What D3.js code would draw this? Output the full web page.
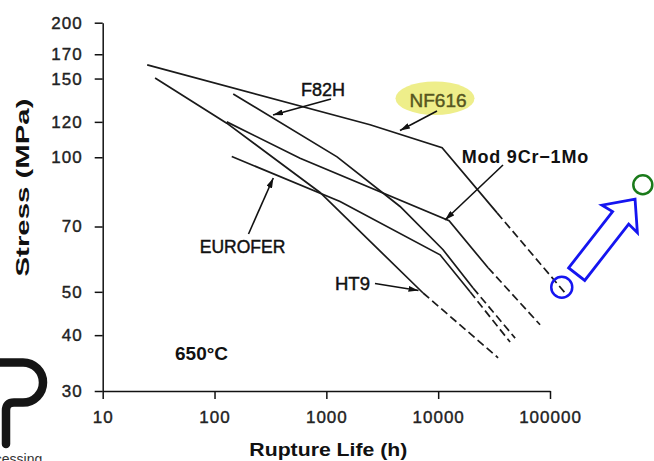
<!DOCTYPE html>
<meta charset="utf-8">
<svg width="654" height="461"></svg>
<script src="https://d3js.org/d3.v7.min.js"></script>
<style>
  body { margin: 0; background: #fff; }
  svg { display: block; }
  * { font-family: 'Liberation Sans', Arial, sans-serif; }
</style>
<script>
// creep rupture curves at 650 C: [rupture life (h), stress (MPa)]
// solid part = measured, dashed part = extrapolated
var nf616Measured = [[25, 161], [2460, 118.2], [10840, 105], [33650, 75.1]];
var nf616Extrapolated = [[33650, 75.1], [139300, 49.4]];

var mod9CrMeasured = [[128.6, 120], [582, 99.5], [12520, 72.1], [27950, 56.6]];
var mod9CrExtrapolated = [[27950, 56.6], [81500, 42.2]];

var f82hMeasured = [[147, 138.5], [1247, 100.2], [4563, 77.6], [11060, 62.1], [20510, 51]];
var f82hExtrapolated = [[20510, 51], [48750, 39.4]];

var euroferMeasured = [[142.6, 100.4], [1326, 79.6], [10400, 60.5], [19290, 50]];
var euroferExtrapolated = [[19290, 50], [43950, 38.6]];

var ht9Measured = [[29.4, 150.4], [128.6, 119.2], [878, 83.4], [7328, 49.7]];
var ht9Extrapolated = [[7328, 49.7], [34350, 35.6]];

// circled points (current NF616 end, target)
var currentPoint = [127400, 51.2];
var targetPoint = [676000, 86.8];

var xTicks = [10, 100, 1000, 10000, 100000];
var yTicks = [30, 40, 50, 70, 100, 120, 150, 170, 200];

var svg = d3.select("svg"),
    margin = {top: 22.7, right: 104, bottom: 70, left: 102.7},
    width = +svg.attr("width") - margin.left - margin.right,
    height = +svg.attr("height") - margin.top - margin.bottom,
    g = svg.append("g").attr("transform", "translate(" + margin.left + "," + margin.top + ")");

var x = d3.scaleLog().domain([10, 100000]).range([0, width]);
var y = d3.scaleLog().domain([30, 200]).range([height, 0]);

var line = d3.line()
    .x(function(d) { return x(d[0]); })
    .y(function(d) { return y(d[1]); });

// arrowhead marker
svg.append("defs").append("marker")
    .attr("id", "head")
    .attr("markerUnits", "userSpaceOnUse")
    .attr("viewBox", "0 0 10 6")
    .attr("refX", 10).attr("refY", 3)
    .attr("markerWidth", 10).attr("markerHeight", 6)
    .attr("orient", "auto")
  .append("path")
    .attr("d", "M0,0L10,3L0,6z")
    .attr("fill", "#111");

// axes
var xAxis = g.append("g")
    .attr("transform", "translate(0," + height + ")")
    .call(d3.axisBottom(x).tickValues(xTicks).tickFormat(d3.format("d"))
      .tickSize(8).tickSizeOuter(0).tickPadding(12));

var yAxis = g.append("g")
    .call(d3.axisLeft(y).tickValues(yTicks).tickFormat(d3.format("d"))
      .tickSize(8).tickSizeOuter(0).tickPadding(12));

[xAxis, yAxis].forEach(function(a) {
  a.selectAll("path, line").attr("stroke", "#111").attr("stroke-width", 1.5);
  a.selectAll("text")
      .attr("fill", "#222")
      .attr("stroke", "#222").attr("stroke-width", 0.4)
      .style("font-family", "'Liberation Sans', Arial, sans-serif")
      .style("font-size", "17px")
      .style("letter-spacing", "1px");
});

// curves
var curves = [
  [nf616Measured, nf616Extrapolated],
  [mod9CrMeasured, mod9CrExtrapolated],
  [f82hMeasured, f82hExtrapolated],
  [euroferMeasured, euroferExtrapolated],
  [ht9Measured, ht9Extrapolated]
];

curves.forEach(function(c) {
  g.append("path").datum(c[0])
      .attr("fill", "none").attr("stroke", "#1a1a1a").attr("stroke-width", 1.7)
      .attr("d", line);
  g.append("path").datum(c[1])
      .attr("fill", "none").attr("stroke", "#1a1a1a").attr("stroke-width", 1.7)
      .attr("stroke-dasharray", "8,4")
      .attr("d", line);
});

// axis titles
svg.append("text")
    .attr("x", margin.left + width / 2 + 2)
    .attr("y", 455.5)
    .attr("text-anchor", "middle")
    .attr("textLength", 158)
    .attr("lengthAdjust", "spacingAndGlyphs")
    .style("font-size", "18px")
    .style("font-weight", "bold")
    .attr("fill", "#111")
    .text("Rupture Life (h)");

svg.append("text")
    .attr("transform", "translate(28.5,187.5) rotate(-90)")
    .attr("text-anchor", "middle")
    .attr("textLength", 178)
    .attr("lengthAdjust", "spacingAndGlyphs")
    .style("font-size", "18px")
    .style("font-weight", "bold")
    .attr("fill", "#111")
    .text("Stress  (MPa)");

// labels with pointer arrows
function pointer(x1, y1, x2, y2) {
  svg.append("line")
      .attr("x1", x1).attr("y1", y1).attr("x2", x2).attr("y2", y2)
      .attr("stroke", "#111").attr("stroke-width", 1.6)
      .attr("marker-end", "url(#head)");
}

function label(txt, lx, ly, size, anchor, weight, color) {
  svg.append("text")
      .attr("x", lx).attr("y", ly)
      .attr("text-anchor", anchor)
      .style("font-size", size + "px")
      .style("font-weight", weight)
      .attr("fill", color || "#111")
      .attr("stroke", weight == "normal" ? (color || "#111") : "none")
      .attr("stroke-width", 0.45)
      .text(txt);
}

// NF616 highlight
svg.append("ellipse")
    .attr("cx", 435).attr("cy", 98.3).attr("rx", 39.5).attr("ry", 16.7)
    .attr("fill", "#eeee8a");

label("F82H", 323, 96, 18, "middle", "normal");
pointer(331, 99, 273, 115);

label("NF616", 438, 107, 19, "middle", "normal", "#56561f");
pointer(437, 111, 400, 130.5);

svg.append("text")
    .attr("x", 461.7).attr("y", 163.3)
    .style("font-size", "18px").style("font-weight", "bold")
    .style("letter-spacing", "0.8px")
    .attr("fill", "#111")
    .text("Mod 9Cr\u22121Mo");
pointer(503, 165, 445, 220);

label("EUROFER", 242.5, 253.3, 17.5, "middle", "normal");
pointer(248.5, 234, 273.3, 178);

label("HT9", 335, 290, 18.5, "start", "normal");
pointer(375, 283.5, 418.5, 290.5);

label("650\u00b0C", 175, 360, 19, "start", "bold");

// circled points and the block arrow between them
g.append("circle")
    .attr("cx", x(currentPoint[0])).attr("cy", y(currentPoint[1])).attr("r", 10.5)
    .attr("fill", "none").attr("stroke", "#1515f0").attr("stroke-width", 2.5);

g.append("circle")
    .attr("cx", x(targetPoint[0])).attr("cy", y(targetPoint[1])).attr("r", 9.5)
    .attr("fill", "none").attr("stroke", "#1a7a1a").attr("stroke-width", 2.5);

var aLen = 95, shaftW = 10.2, headW = 22.4, headL = 23.5;
var arrowPts = [
  [0, -shaftW], [aLen - headL, -shaftW], [aLen - headL - 1.5, -headW], [aLen, 0],
  [aLen - headL - 1.5, headW], [aLen - headL, shaftW], [0, shaftW]
];
svg.append("polygon")
    .attr("transform", "translate(576.7,274.2) rotate(-52.1)")
    .attr("points", arrowPts.map(function(p) { return p.join(","); }).join(" "))
    .attr("fill", "none").attr("stroke", "#1515f0").attr("stroke-width", 2.8)
    .attr("stroke-linejoin", "miter");

// watermark logo at bottom-left (cut by the edge, as in the source)
svg.append("path")
    .attr("d", "M-5,362.5H23A20,20 0 0 1 23,402.5H14Q6,402.5 6,410.5V444")
    .attr("fill", "none").attr("stroke", "#151515").attr("stroke-width", 8.5)
    .attr("stroke-linecap", "round");

svg.append("text")
    .attr("x", -27).attr("y", 464)
    .style("font-size", "14px")
    .attr("fill", "#333")
    .text("Processing");
</script>
